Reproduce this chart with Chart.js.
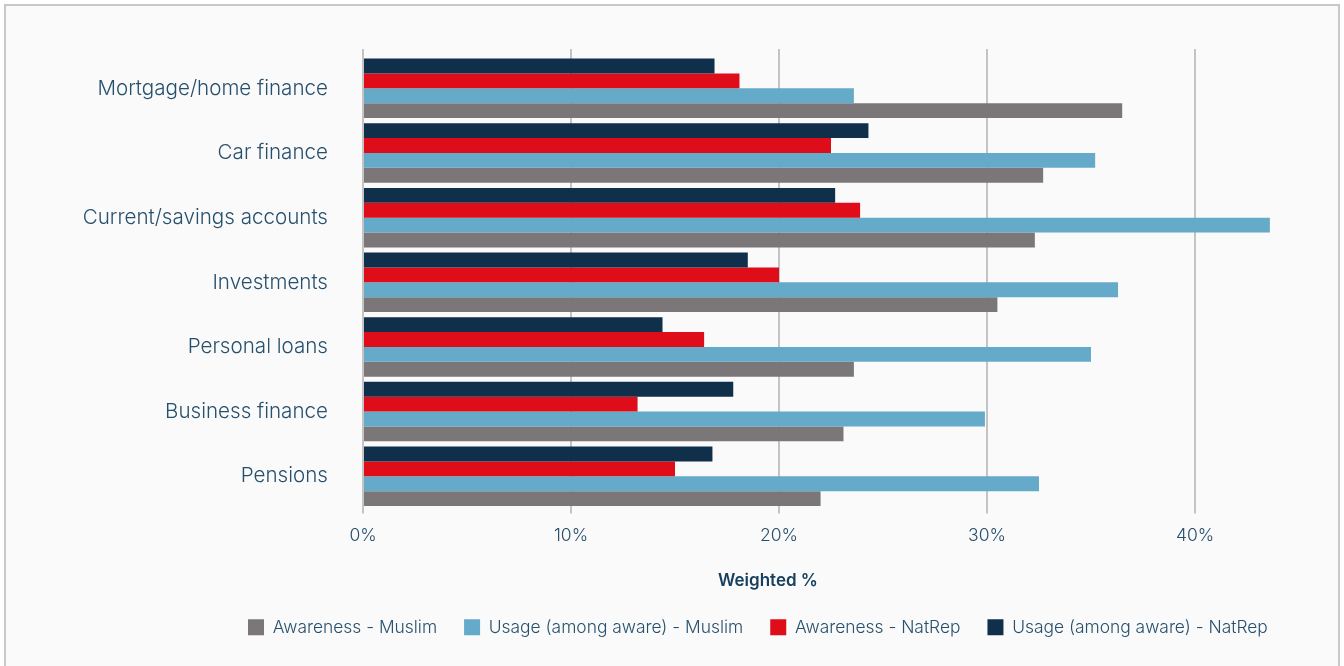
<!DOCTYPE html>
<html>
<head>
<meta charset="utf-8">
<script src="https://cdn.jsdelivr.net/npm/chart.js@4/dist/chart.umd.min.js"></script>
<style>
  html, body { margin: 0; padding: 0; background: #ffffff; width: 1344px; height: 666px; overflow: hidden; }
  #frame { position: absolute; left: 4px; top: 4px; width: 1336px; height: 700px; box-sizing: border-box;
           border: 2px solid #c8c8c8; background: #fafafa; }
  #wrap { position: absolute; left: 0; top: 0; width: 1344px; height: 666px; }
  #c { display: block; }
</style>
</head>
<body>
<div id="frame"></div>
<div id="wrap"><canvas id="c" width="1344" height="666"></canvas></div>
<script>
const categories = ["Mortgage/home finance", "Car finance", "Current/savings accounts", "Investments", "Personal loans", "Business finance", "Pensions"];
const usageNatRep     = [16.9, 24.3, 22.7, 18.5, 14.4, 17.8, 16.8];
const awarenessNatRep = [18.1, 22.5, 23.9, 20.0, 16.4, 13.2, 15.0];
const usageMuslim     = [23.6, 35.2, 43.6, 36.3, 35.0, 29.9, 32.5];
const awarenessMuslim = [36.5, 32.7, 32.3, 30.5, 23.6, 23.1, 22.0];
const seriesNames = ["Usage (among aware) - NatRep", "Awareness - NatRep", "Usage (among aware) - Muslim", "Awareness - Muslim"];
const xTickValues = [0, 10, 20, 30, 40];
const axisTitle = "Weighted %";

const textColor = "#27506d";
const gridColor = "#c4c4c4";
const FONT = "Inter, 'Noto Sans', sans-serif";

const keepTicks = (axis) => { axis.ticks = axis.ticks.filter(t => xTickValues.includes(t.value)); };

const shiftLegend = {
  id: 'shiftLegend',
  afterLayout(chart) {
    const lg = chart.legend;
    const pad = chart.options.plugins.legend.labels.padding;
    lg.left = 248 - pad;
    lg.right = 1344;
  }
};
const axisTitlePlugin = {
  id: 'axisTitlePlugin',
  afterDraw(chart) {
    const ctx = chart.ctx;
    ctx.save();
    ctx.font = "600 17px " + FONT;
    ctx.fillStyle = "#17405e";
    ctx.textAlign = "center";
    ctx.textBaseline = "middle";
    ctx.fillText(axisTitle, 768, 581);
    ctx.restore();
  }
};

new Chart(document.getElementById('c'), {
  type: 'bar',
  data: {
    labels: categories,
    datasets: [
      { label: seriesNames[0], data: usageNatRep, backgroundColor: "#0f2f4b" },
      { label: seriesNames[1], data: awarenessNatRep, backgroundColor: "#df0c1a" },
      { label: seriesNames[2], data: usageMuslim, backgroundColor: "#65aac8" },
      { label: seriesNames[3], data: awarenessMuslim, backgroundColor: "#7b7778" }
    ]
  },
  options: {
    indexAxis: 'y',
    responsive: false,
    animation: false,
    maintainAspectRatio: false,
    devicePixelRatio: 1,
    datasets: { bar: { categoryPercentage: 0.92, barPercentage: 1.0, borderWidth: 0 } },
    layout: { padding: { left: 0, right: 45, top: 49, bottom: 20 } },
    scales: {
      x: {
        type: 'linear', position: 'bottom', min: 0, max: 45,
        afterBuildTicks: keepTicks,
        afterFit: (s) => { s.height = 83; },
        ticks: { stepSize: 10, color: textColor, padding: 12, font: { family: FONT, size: 17.5, weight: 300 },
                 callback: (v) => v + '%' },
        grid: { color: gridColor, lineWidth: 2, tickLength: 5, drawTicks: true },
        border: { display: false }
      },
      x2: {
        type: 'linear', axis: 'x', position: 'top', min: 0, max: 45,
        afterBuildTicks: keepTicks,
        ticks: { display: false, stepSize: 10 },
        grid: { color: gridColor, lineWidth: 2, tickLength: 7, drawOnChartArea: false, drawTicks: true },
        border: { display: false }
      },
      y: {
        afterFit: (s) => { s.width = 363; },
        ticks: { color: textColor, padding: 35, font: { family: FONT, size: 20.6, weight: 300 } },
        grid: { display: false, drawTicks: false },
        border: { display: false }
      }
    },
    plugins: {
      tooltip: { enabled: false },
      legend: {
        position: 'bottom', align: 'start', reverse: true,
        labels: { boxWidth: 16, boxHeight: 16, padding: 27, color: textColor,
                  font: { family: FONT, size: 17.4, weight: 300 } }
      }
    }
  },
  plugins: [shiftLegend, axisTitlePlugin]
});
</script>
</body>
</html>
